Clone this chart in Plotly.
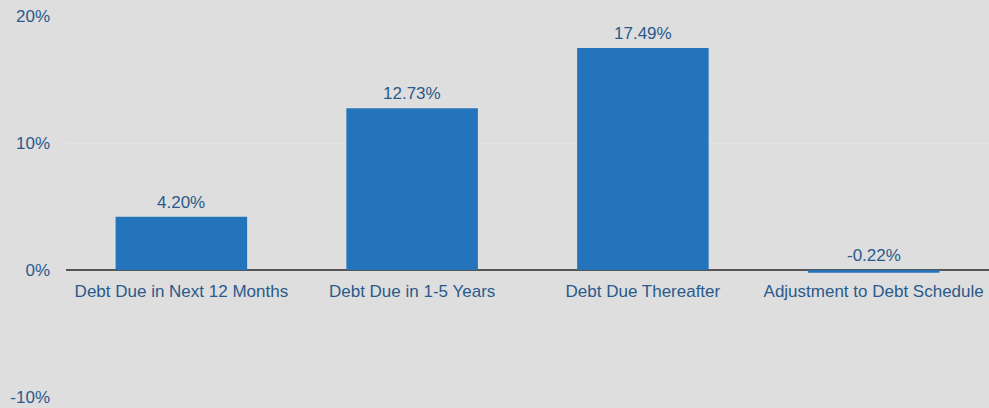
import plotly.graph_objects as go

categories = ["Debt Due in Next 12 Months", "Debt Due in 1-5 Years",
              "Debt Due Thereafter", "Adjustment to Debt Schedule"]
values = [4.20, 12.73, 17.49, -0.22]
y_ticks = [-10, 0, 10, 20]
y_tick_labels = ["-10%", "0%", "10%", "20%"]

BG = "#dedede"
TEXT = "#2a5a8b"
BAR = "#2474bc"
FONT = "Liberation Sans, Arial, sans-serif"
SIZE = 17

fig = go.Figure()
fig.add_trace(go.Bar(
    x=categories, y=values, marker_color=BAR, marker_line_width=0,
    width=0.57, hoverinfo="skip",
))

# value labels sit above the bar top (or above zero for negative values)
for c, v in zip(categories, values):
    fig.add_annotation(
        x=c, y=max(v, 0), text=f"{v:.2f}%", showarrow=False,
        yanchor="bottom", yshift=3,
        font=dict(family=FONT, size=SIZE, color=TEXT),
    )

fig.update_layout(
    width=989, height=408,
    margin=dict(l=66, r=0, t=16, b=11),
    paper_bgcolor=BG, plot_bgcolor=BG,
    showlegend=False,
    font=dict(family=FONT, size=SIZE, color=TEXT),
    xaxis=dict(
        anchor="free", position=1 / 3,
        showline=False, showgrid=False, ticks="",
        ticklabelstandoff=9,
        tickfont=dict(family=FONT, size=SIZE, color=TEXT),
        range=[-0.5, 3.5],
    ),
    yaxis=dict(
        range=[-10, 20], tickvals=y_ticks, ticktext=y_tick_labels,
        showgrid=True, gridcolor="#e4e4e4", gridwidth=1,
        zeroline=True, zerolinecolor="#555555", zerolinewidth=1.5,
        ticks="", ticklabelstandoff=15,
        tickfont=dict(family=FONT, size=SIZE, color=TEXT),
    ),
)

fig.write_html("out.html")
